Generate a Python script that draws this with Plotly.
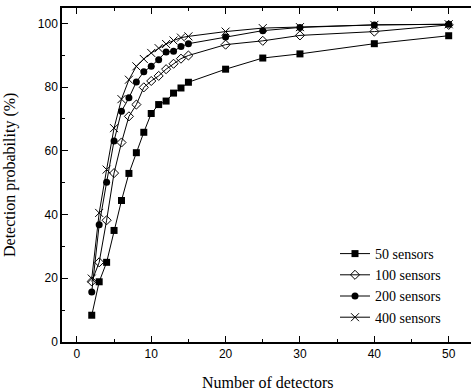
import plotly.graph_objects as go

detectors = [2, 3, 4, 5, 6, 7, 8, 9, 10, 11, 12, 13, 14, 15, 20, 25, 30, 40, 50]

s50 = [8.4, 18.9, 25.0, 35.0, 44.4, 52.9, 59.4, 65.8, 71.7, 74.5, 75.6, 78.1, 79.7, 81.5, 85.6, 89.1, 90.4, 93.6, 96.1]
s100 = [19.0, 25.0, 38.2, 53.0, 62.6, 70.8, 74.5, 79.9, 81.9, 83.5, 85.6, 87.3, 88.9, 89.9, 93.3, 94.5, 96.2, 97.4, 99.5]
s200 = [15.7, 36.8, 50.1, 63.1, 72.4, 76.6, 81.6, 84.8, 86.5, 88.6, 91.0, 91.2, 92.7, 93.6, 95.7, 97.7, 98.7, 99.5, 99.7]
s400 = [19.9, 40.5, 54.1, 67.1, 76.2, 82.3, 86.5, 88.8, 90.7, 92.2, 93.5, 94.6, 95.5, 95.9, 97.4, 98.5, 98.8, 99.5, 99.7]

x_title = "Number of detectors"
y_title = "Detection probability (%)"

series = [
    ("50 sensors", s50, dict(symbol="square", size=7, color="black")),
    ("100 sensors", s100, dict(symbol="diamond-open", size=7, color="black", line=dict(width=1, color="black"))),
    ("200 sensors", s200, dict(symbol="circle", size=7, color="black")),
    ("400 sensors", s400, dict(symbol="x-thin-open", size=8, color="black", line=dict(width=1, color="black"))),
]

fig = go.Figure()
for name, vals, marker in series:
    fig.add_trace(go.Scatter(
        x=detectors, y=vals, mode="lines+markers", name=name,
        line=dict(color="black", width=1), marker=marker,
    ))

W, H = 471, 392
ml, mr, mt, mb = 62, 0, 8, 50
pw, ph = W - ml - mr, H - mt - mb

serif = "Liberation Serif, Times New Roman, serif"
sans = "Liberation Sans, Arial, sans-serif"

axis_common = dict(
    showgrid=False, zeroline=False, showline=True, linecolor="black", linewidth=1.5,
    ticks="inside", ticklen=6, tickwidth=1.2, tickcolor="black", automargin=False,
    tickfont=dict(family=sans, size=12, color="black"),
)

fig.update_layout(
    width=W, height=H,
    margin=dict(l=ml, r=mr, t=mt, b=mb),
    paper_bgcolor="white", plot_bgcolor="white",
    showlegend=True,
    legend=dict(
        x=(335 - ml) / pw, y=(H - mb - 238) / ph,
        xanchor="left", yanchor="top",
        font=dict(family=serif, size=14, color="black"),
        bgcolor="rgba(0,0,0,0)", borderwidth=0, tracegroupgap=0,
    ),
    xaxis=dict(
        axis_common,
        range=[-2, 53], tickmode="array", tickvals=[0, 10, 20, 30, 40, 50],
        mirror="ticks",
        minor=dict(ticks="inside", ticklen=3, tickwidth=1.2, tickcolor="black", dtick=5, showgrid=False),
    ),
    yaxis=dict(
        axis_common,
        range=[0, 104.8], tickmode="array", tickvals=[0, 20, 40, 60, 80, 100],
        ticksuffix="\u00a0\u00a0",
        minor=dict(ticks="inside", ticklen=3, tickwidth=1.2, tickcolor="black", dtick=10, showgrid=False),
    ),
    annotations=[
        dict(text=x_title, xref="paper", yref="paper", x=(268 - ml) / pw, y=0,
             xanchor="center", yanchor="middle", yshift=-40, showarrow=False,
             font=dict(family=serif, size=16, color="black")),
        dict(text=y_title, xref="paper", yref="paper", x=0, y=0.5, textangle=-90,
             xanchor="center", yanchor="middle", xshift=-(ml - 10), showarrow=False,
             font=dict(family=serif, size=16, color="black")),
    ],
)

fig.write_html("out.html", config={"displayModeBar": False},
               post_script="document.body.style.margin='0';document.body.style.overflow='hidden';")
